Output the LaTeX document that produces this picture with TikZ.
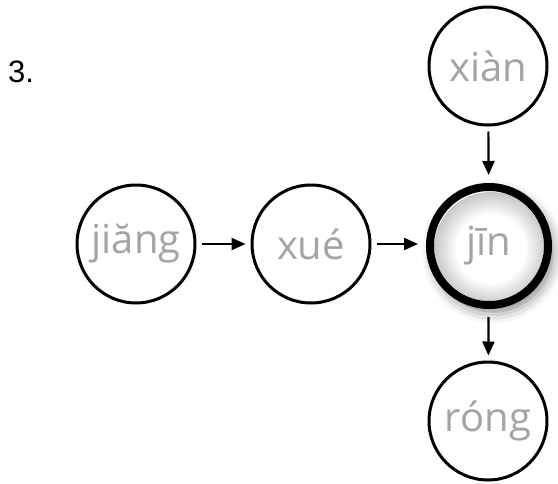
\documentclass[tikz,border=0pt]{standalone}
\usepackage{fontspec}
\setmainfont{Open Sans}
\newfontfamily\labelfont{Liberation Sans}
\usetikzlibrary{arrows.meta,shadows.blur}
\definecolor{syl}{HTML}{A2A4A7}
\tikzset{
  sylfont/.style={text=syl, font=\fontsize{40}{44}\selectfont},
  syllable/.style={circle, draw=black, line width=3pt, minimum size=118pt, inner sep=0pt,
    sylfont, fill=white},
  focus/.style={syllable, line width=8pt, minimum size=118pt,
    blur shadow={shadow xshift=4pt, shadow yshift=-6pt, shadow blur radius=12pt, shadow opacity=55}},
  link/.style={line width=2.2pt, -{Triangle[length=14pt,width=12pt]}, shorten <=5pt, shorten >=5pt}
}
\begin{document}
\begin{tikzpicture}[x=1pt,y=-1pt]
\path[use as bounding box] (0,0) rectangle (558,483);
\node[font=\labelfont\fontsize{31}{34}\selectfont, anchor=base west, inner sep=0pt] (num) at (8,82) {3.};
\node[syllable] (jiang) at (136,244) {jiăng};
\node[syllable] (xue) at (311,244) {xué};
\node[focus] (jin) at (489,246) {};
\node[syllable] (xian) at (488,66) {xiàn};
\node[syllable] (rong) at (488,421) {róng};
\begin{scope}
  \clip (jin.center) circle (55pt);
  \foreach \w in {2,4,...,22}
    \draw[black, opacity=0.018, line width=\w pt] ([shift={(2,3)}]jin.center) circle ({57pt-\w pt/2});
\end{scope}
\node[sylfont, inner sep=0pt] (jintext) at (jin.center) {jīn};
\draw[link] (jiang) -- (xue);
\draw[link, shorten >=8pt] (xue) -- (jin.west |- xue.east);
\draw[link, shorten >=8pt] (xian) -- (jin);
\draw[link, shorten <=8pt] (jin) -- (rong);
\end{tikzpicture}
\end{document}
